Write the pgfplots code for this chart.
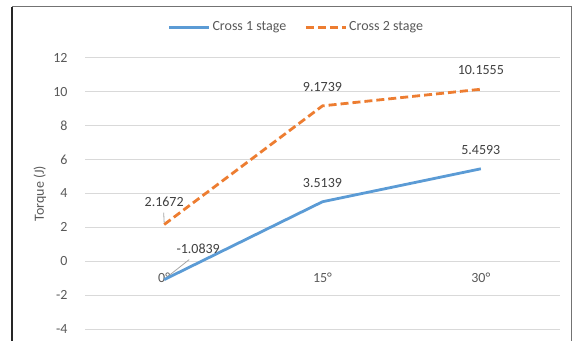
\documentclass[border=0pt]{standalone}
\usepackage{fontspec}
\setmainfont{Carlito}
\usepackage{pgfplots}
\pgfplotsset{compat=1.18}
\usepackage{pgfplotstable}

\definecolor{xlblue}{HTML}{5B9BD5}
\definecolor{xlorange}{HTML}{ED7D31}
\definecolor{xltext}{HTML}{595959}
\definecolor{xllabel}{HTML}{404040}
\definecolor{xlgrid}{HTML}{D9D9D9}
\definecolor{xlleader}{HTML}{A6A6A6}

% angle index, torque, label offsets (bp)
\pgfplotstableread{
x y dx dy
0 -1.0839 34 26
1 3.5139 0 14.6
2 5.4593 0 14.6
}\crossone
\pgfplotstableread{
x y dx dy
0 2.1672 0 17.6
1 9.1739 0 14.6
2 10.1555 0 14.6
}\crosstwo

\begin{document}
\begin{tikzpicture}[font=\fontsize{14bp}{16bp}\selectfont]
\path[use as bounding box] (0,0) rectangle (575bp,341bp);
% chart area frame
\draw[black!85, line width=1.8bp] (12bp,-2bp) -- (12bp,334bp);
\draw[black!55, line width=1bp] (12bp,334bp) -- (571bp,334bp) -- (571bp,-2bp);
\begin{axis}[
  at={(85bp,12bp)}, anchor=south west,
  scale only axis,
  width=475bp, height=271bp,
  xmin=-0.5, xmax=2.5,
  ymin=-4, ymax=12,
  xtick={0,1,2},
  xticklabels={0°,15°,30°},
  ytick={-4,-2,...,12},
  axis line style={draw=none},
  major tick length=0pt,
  ymajorgrids,
  grid style={xlgrid, line width=1bp},
  /pgf/number format/assume math mode=true,
  ticklabel style={text=xltext},
  xticklabel style={anchor=base, yshift=46.5bp},
  yticklabel style={xshift=-14bp},
  ylabel={Torque (J)},
  ylabel style={at={(axis description cs:-0.095,0.5)}, anchor=center, rotate=0, text=xltext},
  clip=false,
  legend columns=2,
  legend style={at={(axis description cs:0.445,1.114)}, anchor=center,
    draw=none, fill=none, text=xltext,
    /tikz/every even column/.append style={column sep=16bp}},
  legend image code/.code={\draw[#1] (0bp,0bp) -- (40bp,0bp);},
  nodes near coords={\pgfmathprintnumber[fixed, fixed zerofill, precision=4]{\pgfplotspointmeta}},
  point meta=y,
  visualization depends on={\thisrow{dx} \as \dx},
  visualization depends on={\thisrow{dy} \as \dy},
  nodes near coords style={anchor=base, xshift=\dx bp, yshift=\dy bp, text=xllabel, inner sep=0pt},
]
\addplot[xlblue, line width=2.8bp, line join=round] table[x=x, y=y] {\crossone};
\addlegendentry{Cross 1 stage}
\addplot[xlorange, line width=2.8bp, dash pattern=on 8bp off 4bp] table[x=x, y=y] {\crosstwo};
\addlegendentry{Cross 2 stage}
% leader lines for the two labels pulled away from their points
\draw[xlleader, line width=0.8bp] (axis cs:0,-1.0839) ++(6bp,5bp) -- ++(19bp,15bp);
\draw[xlleader, line width=0.8bp] (axis cs:0,2.1672) ++(0bp,2bp) -- ++(-0.5bp,10bp);
\end{axis}
\end{tikzpicture}
\end{document}
